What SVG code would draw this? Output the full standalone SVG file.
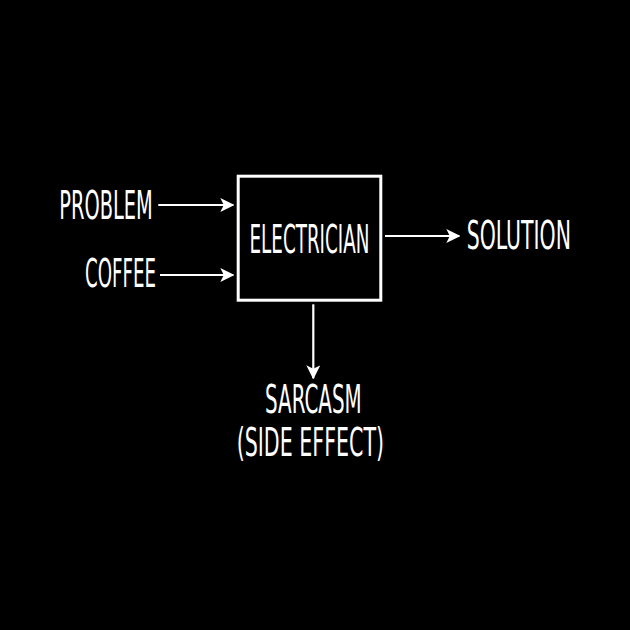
<svg xmlns="http://www.w3.org/2000/svg" width="630" height="630" viewBox="0 0 630 630">
<defs>
<marker id="ah" viewBox="0 0 14 14" refX="13" refY="7" markerWidth="14" markerHeight="14" markerUnits="userSpaceOnUse" orient="auto">
<path d="M0,0 L14,7 L0,14 L3.5,7 Z" fill="#fff"/>
</marker>
<style>
.t{fill:#fff;font-family:"Liberation Sans Narrow","DejaVu Sans Condensed",sans-serif;font-size:38.5px;}
.c{stroke:#fff;stroke-width:2.2;fill:none;marker-end:url(#ah);}
</style>
</defs>
<rect width="630" height="630" fill="#000"/>
<g id="electrician">
<rect x="238.2" y="176.2" width="142.6" height="124" fill="none" stroke="#fff" stroke-width="3"/>
<text class="t" x="249.5" y="252.7" textLength="120" lengthAdjust="spacingAndGlyphs">ELECTRICIAN</text>
</g>
<g id="problem"><text class="t" x="59.3" y="219.3" textLength="93.4" lengthAdjust="spacingAndGlyphs">PROBLEM</text></g>
<g id="coffee"><text class="t" x="85" y="287.3" textLength="71" lengthAdjust="spacingAndGlyphs">COFFEE</text></g>
<g id="solution"><text class="t" x="466.7" y="248.5" textLength="104.3" lengthAdjust="spacingAndGlyphs">SOLUTION</text></g>
<g id="sarcasm">
<text class="t" x="265" y="413.3" textLength="96.7" lengthAdjust="spacingAndGlyphs">SARCASM</text>
<text class="t" x="236.7" y="455.5" textLength="147.3" lengthAdjust="spacingAndGlyphs">(SIDE EFFECT)</text>
</g>
<g id="connectors">
<line class="c" x1="158.3" y1="205" x2="233.3" y2="205"/>
<line class="c" x1="160" y1="275" x2="233.3" y2="275"/>
<line class="c" x1="385" y1="236" x2="459.3" y2="236"/>
<line class="c" x1="313.3" y1="304.3" x2="313.3" y2="378.3"/>
</g>
</svg>
